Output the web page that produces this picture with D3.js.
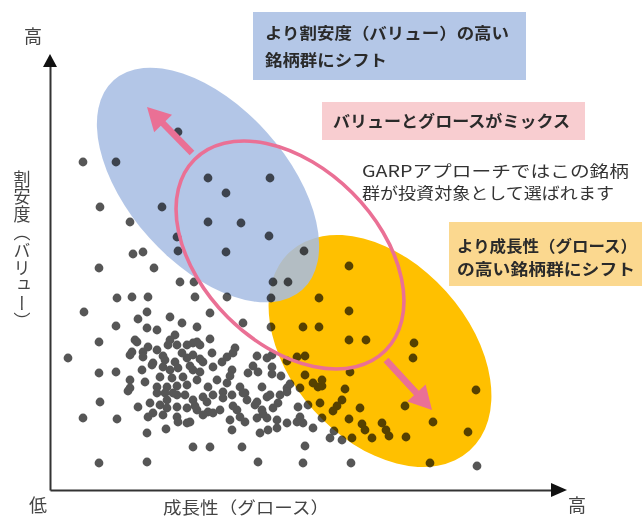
<!DOCTYPE html>
<html><head><meta charset="utf-8">
<script src="https://cdn.jsdelivr.net/npm/d3@7"></script>
<style>
body{margin:0;background:#fff}
svg{display:block}
text{font-family:"Noto Sans CJK JP","Noto Sans",sans-serif}
</style></head>
<body><svg id="c" width="642" height="521"></svg>
<script>
// ---- data (chart units: growth on x, value / cheapness on y) ----
const stocks = [
 [128,358],[33,328],[66,328],[158,312],[220,312],[176,297],[50,283],[112,283],[80,268],[158,268],
 [191,267],[127,253],[219,254],[83,236],[93,238],[128,239],[176,238],[254,239],[49,222],[104,222],
 [130,208],[144,208],[223,208],[238,208],
 [299,224],[221,192],[269,192],[299,179],[221,163],[253,163],[269,163],[299,150],[316,150],
 [364,147],[363,132],[300,118],[272,104],[295,101],[426,100],[292,90],[287,84],[283,79],[310,82],
 [355,84],[272,72],[299,71],[312,66],[315,60],[332,67],[336,60],[339,54],[383,68],[284,59],
 [280,52],[292,50],[302,52],[322,52],[356,53],[418,58],[301,27],[380,27],[427,24],
 [145,193],[177,193],[160,177],[147,163],[193,167],[160,151],[143,147],[150,145],[185,142],[183,137],
 [162,137],[207,134],[222,135],[247,133],[255,134],[153,128],[172,128],[182,120],[143,120],[163,123],
 [198,117],[208,118],[222,123],[222,116],[231,114],[255,115],[272,110],[147,110],[167,110],[190,103],
 [212,103],[237,102],[268,103],[158,103],[173,98],[195,97],[220,95],[230,95],
 [67,192],[82,193],[98,193],[34,178],[97,178],[88,171],[120,173],[66,164],[97,162],[107,160],
 [132,167],[49,148],[125,155],[87,148],[118,145],[127,145],[18,132],[82,138],[93,138],[107,140],
 [80,135],[115,130],[125,128],[137,132],[49,117],[66,118],[92,120],[102,125],[113,123],[120,120],
 [128,122],[110,113],[122,112],[133,113],[80,110],[95,108],[80,102],[107,103],[117,103],[127,104],
 [137,105],[115,97],[127,95],[50,88],
 [78,99],[107,97],[123,97],[135,95],[88,83],[100,87],[110,85],[117,82],[127,83],[137,82],
 [33,72],[67,71],[98,73],[113,75],[127,73],[128,68],[137,67],[97,57],[116,61],[49,27],[97,28],
 [143,90],[153,93],[163,95],[173,92],[182,95],[193,97],[217,93],[237,98],[147,80],[158,78],
 [170,80],[187,80],[205,85],[212,80],[223,82],[228,87],[248,83],[258,85],[270,87],[140,68],
 [180,70],[195,68],[207,72],[217,72],[227,70],[237,67],[247,68],[253,67],[263,62],[182,60],
 [210,57],[218,60],[143,43],[160,43],[192,43],[255,44],[208,28],[253,27],
 [85,150],[98,143],[120,150],[137,145],[147,148],[93,133],[113,134],[132,137],[143,135],[150,131],
 [177,133],[217,132],[103,127],[140,124],[150,118],[180,114],[203,124],[237,129],[177,107],[240,106],
 [250,102],[263,107],[117,90],[145,84],[157,88],[183,84],[197,90],[207,88],[103,77],[153,75],
 [163,77],[190,73],[213,76],[250,73],[227,62]
];
// clusters: centre (growth, value), radii along / across, tilt in degrees
const clusterNames = ["value", "growth", "garp"];
const clusterCentre = [[158,305],[330,139],[240,235]];
const clusterRadii  = [[141,79],[134,89],[135,88]];
const clusterTilt   = [-48,-48,-45];
// shift arrows: from -> to (chart units)
const arrowFrom = [[142,337],[336,130]];
const arrowTo   = [[97,383],[382,80]];
// text
const boxTexts = [
  ["より割安度（バリュー）の高い","銘柄群にシフト"],
  ["バリューとグロースがミックス"],
  ["より成長性（グロース）","の高い銘柄群にシフト"]
];
const noteLines = ["GARPアプローチではこの銘柄","群が投資対象として選ばれます"];
const axisTitles = {x:"成長性（グロース）", y:"割安度（バリュー）"};
const axisEnds = {low:"低", high:"高"};

// ---- drawing ----
const svg = d3.select("#c");
const x = d3.scaleLinear().domain([0,510]).range([50,560]);
const y = d3.scaleLinear().domain([0,430]).range([490,60]);
const kx = x(1)-x(0), ky = y(0)-y(1);

// text boxes (behind)
const boxes = [
  {rect:[253,12,273,68], fill:"#b4c7e7", lines:boxTexts[0], tx:265, ty:[39,66], len:[244,122]},
  {rect:[322,102,263,38], fill:"#f8cdd0", lines:boxTexts[1], tx:333, ty:[127], len:[237]},
  {rect:[449,222,193,64], fill:"#fbd88f", lines:boxTexts[2], tx:457, ty:[252,275], len:[180,178]}
];
boxes.forEach(b=>{
  svg.append("rect").attr("x",b.rect[0]).attr("y",b.rect[1]).attr("width",b.rect[2]).attr("height",b.rect[3]).attr("fill",b.fill);
  b.lines.forEach((t,i)=>{
    svg.append("text").attr("x",b.tx).attr("y",b.ty[i]).attr("font-size",16)
      .attr("font-weight",700).attr("fill","#2a2a2a")
      .attr("textLength",b.len[i]).attr("lengthAdjust","spacingAndGlyphs").text(t);
  });
});

// ellipses
function ell(i){
  return svg.append("ellipse")
    .attr("cx",0).attr("cy",0)
    .attr("rx",clusterRadii[i][0]*kx).attr("ry",clusterRadii[i][1]*ky)
    .attr("transform",`translate(${x(clusterCentre[i][0])},${y(clusterCentre[i][1])}) rotate(${-clusterTilt[i]})`);
}
ell(1).attr("fill","#ffc000");
ell(0).attr("fill","#a7bde3").attr("fill-opacity",0.86);

// dots
svg.append("g").style("mix-blend-mode","multiply")
  .selectAll("circle").data(stocks).join("circle")
  .attr("cx",d=>x(d[0])).attr("cy",d=>y(d[1])).attr("r",4.4).attr("fill","#565656");

// GARP ellipse + arrows
const pink = "#ea7095";
ell(2).attr("fill","none").attr("stroke",pink).attr("stroke-width",3.6);
arrowFrom.forEach((f,i)=>{
  const x0=x(f[0]), y0=y(f[1]), x1=x(arrowTo[i][0]), y1=y(arrowTo[i][1]);
  const dx=x1-x0, dy=y1-y0, L=Math.hypot(dx,dy), ux=dx/L, uy=dy/L;
  const hl=23, hw=12.5;
  const bx=x1-ux*hl, by=y1-uy*hl;
  svg.append("line").attr("x1",x0).attr("y1",y0).attr("x2",bx+ux*2).attr("y2",by+uy*2)
    .attr("stroke",pink).attr("stroke-width",6.5);
  svg.append("path").attr("fill",pink)
    .attr("d",`M${x1},${y1}L${bx-uy*hw},${by+ux*hw}L${bx+uy*hw},${by-ux*hw}Z`);
});

// note text
noteLines.forEach((t,i)=>{
  svg.append("text").attr("x",362).attr("y",[177,199][i]).attr("font-size",16)
    .attr("fill","#333").attr("textLength",[267,252][i]).attr("lengthAdjust","spacingAndGlyphs").text(t);
});

// axes (no ticks)
svg.append("g").attr("transform",`translate(0,${y(0)})`)
  .call(d3.axisBottom(x).tickValues([]).tickSizeOuter(0))
  .call(g=>g.select(".domain").attr("stroke","#333").attr("stroke-width",2));
svg.append("g").attr("transform",`translate(${x(0)},0)`)
  .call(d3.axisLeft(y).tickValues([]).tickSizeOuter(0))
  .call(g=>g.select(".domain").attr("stroke","#333").attr("stroke-width",2));
const xe = x(510), ye = y(430);
svg.append("path").attr("fill","#111").attr("d",`M${xe-9},${y(0)-7}L${xe+7},${y(0)}L${xe-9},${y(0)+7}Z`);
svg.append("path").attr("fill","#111").attr("d",`M${x(0)-7},${ye+7}L${x(0)},${ye-6}L${x(0)+7},${ye+7}Z`);

const lab = (t,px,py,fs)=>svg.append("text").attr("x",px).attr("y",py).attr("text-anchor","middle")
  .attr("font-size",fs).attr("fill","#444").text(t);
lab(axisEnds.high,33,43,18);
lab(axisEnds.low,38,512,18);
lab(axisEnds.high,577,512,18);
lab(axisTitles.x,246,514,16.5).attr("textLength",166).attr("lengthAdjust","spacingAndGlyphs");
svg.append("text").attr("x",22).attr("y",250).attr("text-anchor","middle")
  .style("writing-mode","vertical-rl").attr("font-size",17).attr("fill","#444")
  .attr("textLength",160).attr("lengthAdjust","spacingAndGlyphs").text(axisTitles.y);
</script></body></html>
